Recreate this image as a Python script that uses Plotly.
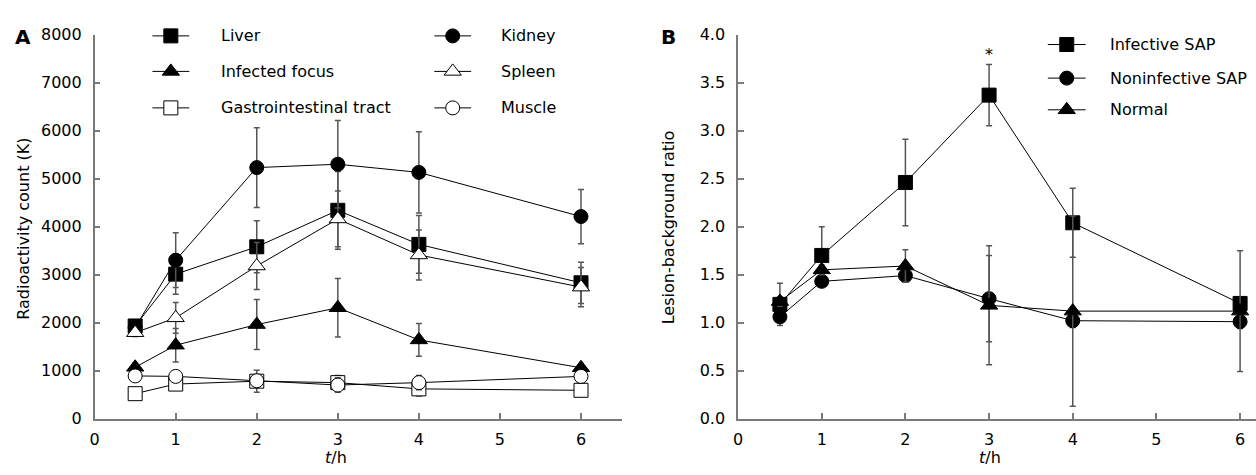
import plotly.graph_objects as go

W, H = 1256, 475

# ---------------- data ----------------
t = [0.5, 1, 2, 3, 4, 6]

liver = [1930, 3010, 3580, 4340, 3630, 2830]
liver_err = [120, 420, 540, 810, 600, 430]
kidney = [1900, 3300, 5230, 5300, 5130, 4210]
kidney_err = [110, 570, 830, 910, 845, 565]
infected = [1070, 1530, 1960, 2310, 1640, 1060]
infected_err = [80, 350, 520, 610, 340, 50]
spleen = [1790, 2100, 3180, 4160, 3410, 2740]
spleen_err = [80, 320, 490, 580, 520, 410]
gi = [520, 720, 780, 750, 620, 590]
gi_err = [90, 100, 230, 150, 150, 100]
muscle = [890, 880, 790, 700, 750, 880]
muscle_err = [80, 120, 100, 150, 150, 100]

infective = [1.19, 1.70, 2.46, 3.37, 2.04, 1.20]
infective_err = [0.22, 0.30, 0.45, 0.32, 0.36, 0.07]
noninf = [1.06, 1.43, 1.49, 1.25, 1.02, 1.01]
noninf_err = [0.05, 0.05, 0.07, 0.45, 0.07, 0.07]
normal = [1.22, 1.55, 1.59, 1.18, 1.12, 1.12]
normal_err = [0.05, 0.05, 0.17, 0.62, 0.99, 0.63]

x_ticks = [0, 1, 2, 3, 4, 5, 6]
yA_ticks = [0, 1000, 2000, 3000, 4000, 5000, 6000, 7000, 8000]
yB_ticks = [0.0, 0.5, 1.0, 1.5, 2.0, 2.5, 3.0, 3.5, 4.0]
yB_ticktext = ["0.0", "0.5", "1.0", "1.5", "2.0", "2.5", "3.0", "3.5", "4.0"]

seriesA = [
    ("Liver", liver, liver_err, "square", "black"),
    ("Kidney", kidney, kidney_err, "circle", "black"),
    ("Infected focus", infected, infected_err, "triangle-up", "black"),
    ("Spleen", spleen, spleen_err, "triangle-up", "white"),
    ("Gastrointestinal tract", gi, gi_err, "square", "white"),
    ("Muscle", muscle, muscle_err, "circle", "white"),
]
seriesB = [
    ("Infective SAP", infective, infective_err, "square", "black"),
    ("Noninfective SAP", noninf, noninf_err, "circle", "black"),
    ("Normal", normal, normal_err, "triangle-up", "black"),
]

FONT = "DejaVu Sans"
AXIS_COL = "#7a7a7a"
ERR_COL = "#555555"
MSIZE = 14

# ---------------- layout geometry (pixels) ----------------
A_X0, A_X1, A_XMAX = 90, 619, 6.5
B_X0, B_X1, B_XMAX = 736, 1256, 6.19
Y_BOT, Y_TOP = 426.7, 26.7
A_YMAX, B_YMAX = 8000, 4.0


def px(x):
    return x / W


def py(y):
    return 1 - y / H


def a_data(xp, yp):
    return ((xp - A_X0) / (A_X1 - A_X0) * A_XMAX,
            (Y_BOT - yp) / (Y_BOT - Y_TOP) * A_YMAX)


def b_data(xp, yp):
    return ((xp - B_X0) / (B_X1 - B_X0) * B_XMAX,
            (Y_BOT - yp) / (Y_BOT - Y_TOP) * B_YMAX)


fig = go.Figure()

# panel A traces
for name, vals, err, sym, fill in seriesA:
    fig.add_trace(go.Scatter(
        x=t, y=vals, mode="lines+markers", name=name, showlegend=False,
        line=dict(color="black", width=1),
        marker=dict(symbol=sym, size=MSIZE + (1 if sym == "triangle-up" else 0),
                    color=fill, line=dict(color="black", width=1)),
        error_y=dict(type="data", array=err, visible=True, color=ERR_COL,
                     thickness=1.5, width=3),
        cliponaxis=False, xaxis="x", yaxis="y",
    ))

# panel B traces
for name, vals, err, sym, fill in seriesB:
    fig.add_trace(go.Scatter(
        x=t, y=vals, mode="lines+markers", name=name, showlegend=False,
        line=dict(color="black", width=1),
        marker=dict(symbol=sym, size=MSIZE + (1 if sym == "triangle-up" else 0),
                    color=fill, line=dict(color="black", width=1)),
        error_y=dict(type="data", array=err, visible=True, color=ERR_COL,
                     thickness=1.5, width=3),
        cliponaxis=False, xaxis="x2", yaxis="y2",
    ))

annotations = []


def legend_entry(conv, xa, ya, x0, x1, xt, yy, name, sym, fill):
    (dx0, dy), (dx1, _), (dxm, _) = conv(x0, yy), conv(x1, yy), conv((x0 + x1) / 2, yy)
    fig.add_trace(go.Scatter(
        x=[dx0, dx1], y=[dy, dy], mode="lines", showlegend=False,
        hoverinfo="skip", line=dict(color="black", width=1),
        cliponaxis=False, xaxis=xa, yaxis=ya))
    fig.add_trace(go.Scatter(
        x=[dxm], y=[dy], mode="markers", showlegend=False, hoverinfo="skip",
        marker=dict(symbol=sym, size=MSIZE + (1 if sym == "triangle-up" else 0),
                    color=fill, line=dict(color="black", width=1)),
        cliponaxis=False, xaxis=xa, yaxis=ya))
    annotations.append(dict(x=px(xt), y=py(yy), xref="paper", yref="paper",
                            text=name, showarrow=False, xanchor="left",
                            yanchor="middle",
                            font=dict(family=FONT, size=16, color="black")))


legA_cols = [(148, 185, 215), (431, 468, 496)]
legA_rows = [28, 65, 103]
for i, (name, vals, err, sym, fill) in enumerate(seriesA):
    x0, x1, xt = legA_cols[i % 2]
    legend_entry(a_data, "x", "y", x0, x1, xt, legA_rows[i // 2], name, sym, fill)

legB_rows = [37, 72, 105]
for i, (name, vals, err, sym, fill) in enumerate(seriesB):
    legend_entry(b_data, "x2", "y2", 1047, 1085, 1107, legB_rows[i], name, sym, fill)


def center_text(x, y, text, size=16, angle=0):
    return dict(x=px(x), y=py(y), xref="paper", yref="paper", text=text,
                textangle=angle, showarrow=False, xanchor="center",
                yanchor="middle", font=dict(family=FONT, size=size, color="black"))


annotations += [
    center_text(18, 29, "<b>A</b>", size=20),
    center_text(666, 29, "<b>B</b>", size=20),
    center_text(19, 229, "Radioactivity count (K)", angle=-90),
    center_text(667, 227, "Lesion-background ratio", angle=-90),
    center_text(332, 467, "<i>t</i>/h"),
    center_text(989, 467, "<i>t</i>/h"),
    dict(x=3, y=infective[3] + infective_err[3], xref="x2", yref="y2",
         text="*", showarrow=False, xanchor="center", yanchor="bottom",
         yshift=-2, font=dict(family=FONT, size=16, color="black")),
]

axis_common = dict(
    showgrid=False, zeroline=False, showline=True, linecolor=AXIS_COL,
    linewidth=1.5, ticks="inside", ticklen=6, tickwidth=1.5,
    tickcolor=AXIS_COL, tickfont=dict(family=FONT, size=16, color="black"),
    fixedrange=True,
)

fig.update_layout(
    width=W, height=H, margin=dict(l=0, r=0, t=0, b=0),
    paper_bgcolor="white", plot_bgcolor="rgba(0,0,0,0)", showlegend=False,
    font=dict(family=FONT, size=16, color="black"),
    xaxis=dict(domain=[px(A_X0), px(A_X1)], range=[0, A_XMAX], anchor="y",
               tickvals=x_ticks, ticklabelstandoff=5, **axis_common),
    yaxis=dict(domain=[py(Y_BOT), py(Y_TOP)], range=[0, A_YMAX], anchor="x",
               tickvals=yA_ticks, ticklabelstandoff=8, **axis_common),
    xaxis2=dict(domain=[px(B_X0), px(B_X1)], range=[0, B_XMAX], anchor="y2",
                tickvals=x_ticks, ticklabelstandoff=5, **axis_common),
    yaxis2=dict(domain=[py(Y_BOT), py(Y_TOP)], range=[0, B_YMAX], anchor="x2",
                tickvals=yB_ticks, ticktext=yB_ticktext, ticklabelstandoff=8,
                **axis_common),
    annotations=annotations,
)

fig.write_html("out.html", config={"displayModeBar": False},
               post_script="document.body.style.margin='0';")
